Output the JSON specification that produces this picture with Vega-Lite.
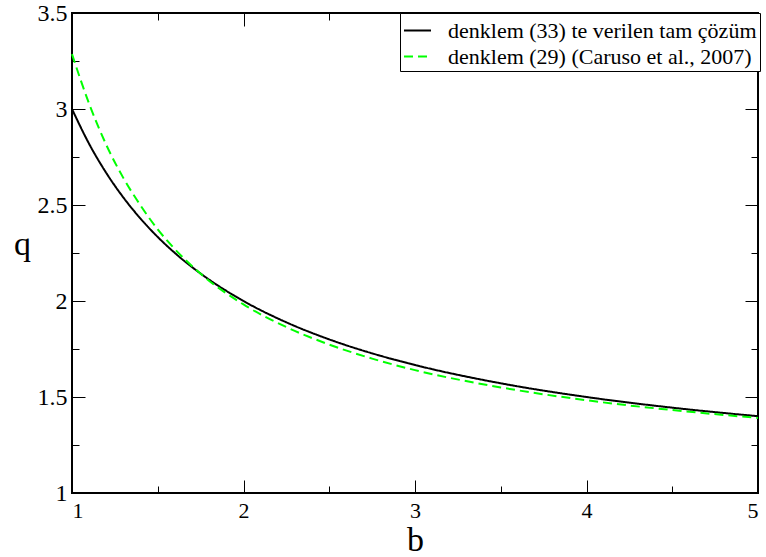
{
  "$schema": "https://vega.github.io/schema/vega-lite/v6.json",
  "width": 686,
  "height": 480,
  "autosize": {"type": "none"},
  "padding": {"left": 72, "top": 13, "right": 8, "bottom": 64},
  "background": "white",
  "config": {
    "font": "Liberation Serif",
    "view": {"stroke": "black", "strokeWidth": 2},
    "axis": {
      "domain": false,
      "grid": false,
      "tickColor": "black",
      "tickWidth": 1,
      "labelColor": "black",
      "titleColor": "black",
      "labelFont": "Liberation Serif",
      "titleFont": "Liberation Serif",
      "titleFontWeight": "normal",
      "labelFontSize": 22,
      "titleFontSize": 34
    }
  },
  "data": {
    "values": [
      {"series": "denklem (33) te verilen tam çözüm", "b": 1, "q": 3},
      {"series": "denklem (33) te verilen tam çözüm", "b": 1.1, "q": 2.8182},
      {"series": "denklem (33) te verilen tam çözüm", "b": 1.2, "q": 2.6667},
      {"series": "denklem (33) te verilen tam çözüm", "b": 1.3, "q": 2.5385},
      {"series": "denklem (33) te verilen tam çözüm", "b": 1.4, "q": 2.4286},
      {"series": "denklem (33) te verilen tam çözüm", "b": 1.5, "q": 2.3333},
      {"series": "denklem (33) te verilen tam çözüm", "b": 1.6, "q": 2.25},
      {"series": "denklem (33) te verilen tam çözüm", "b": 1.75, "q": 2.1429},
      {"series": "denklem (33) te verilen tam çözüm", "b": 2, "q": 2},
      {"series": "denklem (33) te verilen tam çözüm", "b": 2.25, "q": 1.8889},
      {"series": "denklem (33) te verilen tam çözüm", "b": 2.5, "q": 1.8},
      {"series": "denklem (33) te verilen tam çözüm", "b": 2.75, "q": 1.7273},
      {"series": "denklem (33) te verilen tam çözüm", "b": 3, "q": 1.6667},
      {"series": "denklem (33) te verilen tam çözüm", "b": 3.5, "q": 1.5714},
      {"series": "denklem (33) te verilen tam çözüm", "b": 4, "q": 1.5},
      {"series": "denklem (33) te verilen tam çözüm", "b": 4.5, "q": 1.4444},
      {"series": "denklem (33) te verilen tam çözüm", "b": 5, "q": 1.4},
      {"series": "denklem (29) (Caruso et al., 2007)", "b": 1, "q": 3.286},
      {"series": "denklem (29) (Caruso et al., 2007)", "b": 1.1, "q": 3.027},
      {"series": "denklem (29) (Caruso et al., 2007)", "b": 1.2, "q": 2.813},
      {"series": "denklem (29) (Caruso et al., 2007)", "b": 1.3, "q": 2.64},
      {"series": "denklem (29) (Caruso et al., 2007)", "b": 1.4, "q": 2.497},
      {"series": "denklem (29) (Caruso et al., 2007)", "b": 1.5, "q": 2.373},
      {"series": "denklem (29) (Caruso et al., 2007)", "b": 1.6, "q": 2.27},
      {"series": "denklem (29) (Caruso et al., 2007)", "b": 1.75, "q": 2.142},
      {"series": "denklem (29) (Caruso et al., 2007)", "b": 2, "q": 1.982},
      {"series": "denklem (29) (Caruso et al., 2007)", "b": 2.25, "q": 1.864},
      {"series": "denklem (29) (Caruso et al., 2007)", "b": 2.5, "q": 1.773},
      {"series": "denklem (29) (Caruso et al., 2007)", "b": 2.75, "q": 1.7},
      {"series": "denklem (29) (Caruso et al., 2007)", "b": 3, "q": 1.64},
      {"series": "denklem (29) (Caruso et al., 2007)", "b": 3.5, "q": 1.55},
      {"series": "denklem (29) (Caruso et al., 2007)", "b": 4, "q": 1.483},
      {"series": "denklem (29) (Caruso et al., 2007)", "b": 4.5, "q": 1.432},
      {"series": "denklem (29) (Caruso et al., 2007)", "b": 5, "q": 1.391}
    ]
  },
  "layer": [
    {
      "mark": {"type": "line", "strokeWidth": 2, "interpolate": "monotone"},
      "encoding": {
        "x": {"field": "b", "type": "quantitative",
          "scale": {"domain": [1, 5], "nice": false, "zero": false},
          "axis": {"orient": "bottom", "values": [1, 2, 3, 4, 5], "format": "~g", "tickSize": -13, "labelPadding": 20,
            "title": "b", "titleY": 57, "titleBaseline": "alphabetic", "titleAlign": "center"}},
        "y": {"field": "q", "type": "quantitative",
          "scale": {"domain": [1, 3.5], "nice": false, "zero": false},
          "axis": {"orient": "left", "values": [1, 1.5, 2, 2.5, 3, 3.5], "format": "~g", "tickSize": -13, "labelPadding": 18,
            "labelFontSize": 24,
            "title": "q", "titleAngle": 0, "titleX": -50, "titleY": 241, "titleAlign": "center", "titleBaseline": "alphabetic"}},
        "color": {"field": "series", "type": "nominal",
          "scale": {"domain": ["denklem (33) te verilen tam çözüm", "denklem (29) (Caruso et al., 2007)"], "range": ["#000000", "#00ff00"]},
          "legend": {"title": null, "orient": "none", "legendX": 328, "legendY": 0, "strokeColor": "black", "fillColor": "white",
            "padding": 3, "labelFont": "Liberation Serif", "labelFontSize": 22, "labelColor": "black", "symbolType": "stroke",
            "symbolSize": 729, "symbolStrokeWidth": 2, "labelOffset": 16, "rowPadding": 0, "labelLimit": 400}},
        "strokeDash": {"field": "series", "type": "nominal",
          "scale": {"domain": ["denklem (33) te verilen tam çözüm", "denklem (29) (Caruso et al., 2007)"], "range": [[1, 0], [9, 5]]},
          "legend": {"title": null, "orient": "none", "legendX": 328, "legendY": 0, "strokeColor": "black", "fillColor": "white",
            "padding": 3, "labelFont": "Liberation Serif", "labelFontSize": 22, "labelColor": "black", "symbolType": "stroke",
            "symbolSize": 729, "symbolStrokeWidth": 2, "labelOffset": 16, "rowPadding": 0, "labelLimit": 400}}
      }
    },
    {
      "mark": {"type": "line", "opacity": 0},
      "encoding": {
        "detail": {"field": "series"},
        "x": {"field": "b", "type": "quantitative", "scale": {"domain": [1, 5], "nice": false, "zero": false},
          "axis": {"orient": "bottom", "values": [1.5, 2.5, 3.5, 4.5], "tickSize": -7, "labels": false, "title": null}},
        "y": {"field": "q", "type": "quantitative", "scale": {"domain": [1, 3.5], "nice": false, "zero": false},
          "axis": {"orient": "left", "values": [1.25, 1.75, 2.25, 2.75, 3.25], "tickSize": -7, "labels": false, "title": null}}
      }
    },
    {
      "mark": {"type": "line", "opacity": 0},
      "encoding": {
        "detail": {"field": "series"},
        "x": {"field": "b", "type": "quantitative", "scale": {"domain": [1, 5], "nice": false, "zero": false},
          "axis": {"orient": "top", "values": [1, 2, 3, 4, 5], "tickSize": -13, "labels": false, "title": null}},
        "y": {"field": "q", "type": "quantitative", "scale": {"domain": [1, 3.5], "nice": false, "zero": false},
          "axis": {"orient": "right", "values": [1, 1.5, 2, 2.5, 3, 3.5], "tickSize": -13, "labels": false, "title": null}}
      }
    },
    {
      "mark": {"type": "line", "opacity": 0},
      "encoding": {
        "detail": {"field": "series"},
        "x": {"field": "b", "type": "quantitative", "scale": {"domain": [1, 5], "nice": false, "zero": false},
          "axis": {"orient": "top", "values": [1.5, 2.5, 3.5, 4.5], "tickSize": -7, "labels": false, "title": null}},
        "y": {"field": "q", "type": "quantitative", "scale": {"domain": [1, 3.5], "nice": false, "zero": false},
          "axis": {"orient": "right", "values": [1.25, 1.75, 2.25, 2.75, 3.25], "tickSize": -7, "labels": false, "title": null}}
      }
    }
  ],
  "resolve": {"axis": {"x": "independent", "y": "independent"}}
}
